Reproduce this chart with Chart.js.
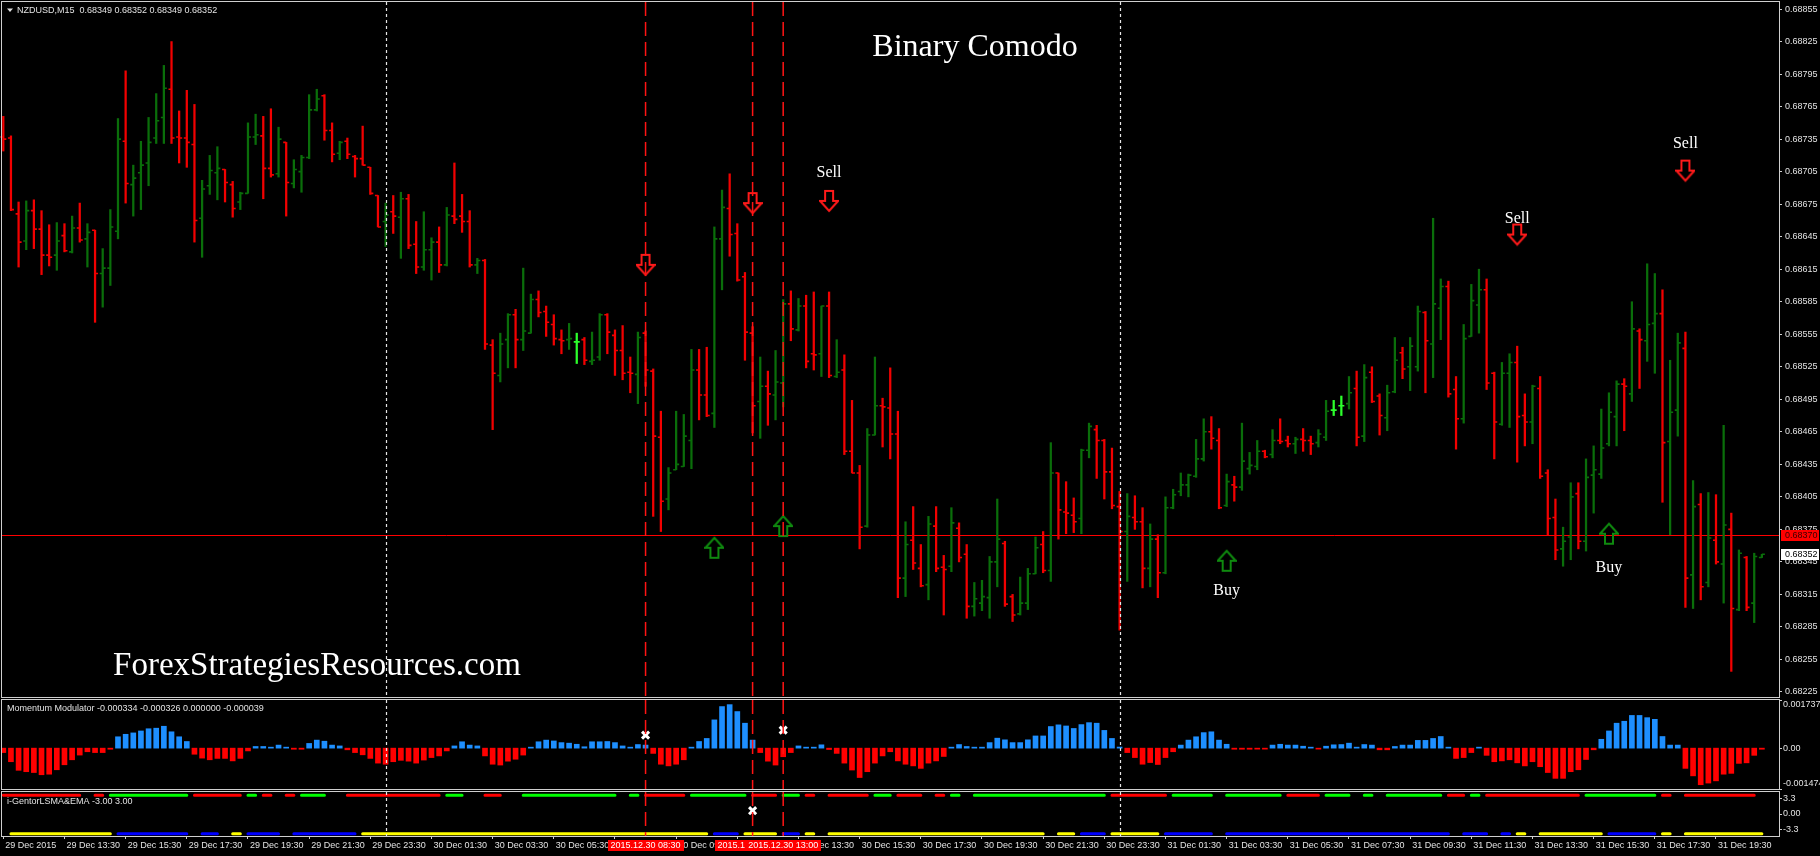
<!DOCTYPE html>
<html>
<head>
<meta charset="utf-8">
<title>Binary Comodo</title>
<script src="https://cdn.jsdelivr.net/npm/chart.js@4.4.1/dist/chart.umd.min.js"></script>
<style>
  html, body { margin: 0; padding: 0; background: #000; overflow: hidden; }
  body { width: 1820px; height: 856px; position: relative; }
  canvas { position: absolute; left: 0; }
</style>
</head>
<body>
<canvas id="main" width="1820" height="699" style="top:0;width:1820px;height:699px"></canvas>
<canvas id="momentum" width="1820" height="92" style="top:699px;width:1820px;height:92px"></canvas>
<canvas id="gentor" width="1820" height="65" style="top:791px;width:1820px;height:65px"></canvas>
<script>
// ---- data (NZDUSD M15, 29 Dec 2015 11:30 -> 31 Dec 2015 21:00) ----
const timeLabels = [
  "29 Dec 2015", "29 Dec 13:30", "29 Dec 15:30", "29 Dec 17:30", "29 Dec 19:30", "29 Dec 21:30", "29 Dec 23:30",
  "30 Dec 01:30", "30 Dec 03:30", "30 Dec 05:30", "30 Dec 07:30", "30 Dec 09:30", "30 Dec 11:30", "30 Dec 13:30",
  "30 Dec 15:30", "30 Dec 17:30", "30 Dec 19:30", "30 Dec 21:30", "30 Dec 23:30", "31 Dec 01:30", "31 Dec 03:30",
  "31 Dec 05:30", "31 Dec 07:30", "31 Dec 09:30", "31 Dec 11:30", "31 Dec 13:30", "31 Dec 15:30", "31 Dec 17:30",
  "31 Dec 19:30"
];
const timeTickBars = [0, 8, 16, 24, 32, 40, 48, 56, 64, 72, 80, 88, 96, 104, 112, 120, 128, 136, 144, 152,
  160, 168, 176, 184, 192, 200, 208, 216, 224];

const priceTicks = [0.68225, 0.68255, 0.68285, 0.68315, 0.68345, 0.68375, 0.68405, 0.68435, 0.68465, 0.68495,
  0.68525, 0.68555, 0.68585, 0.68615, 0.68645, 0.68675, 0.68705, 0.68735, 0.68765, 0.68795, 0.68825, 0.68855];

const opens = [
  0.68737,0.68736,0.68666,0.68641,0.68669,0.68652,0.68628,0.68628,0.68646,0.68631,
  0.68653,0.68643,0.68651,0.68611,0.68616,0.68650,0.68733,0.68693,0.68704,0.68713,
  0.68736,0.68755,0.68781,0.68737,0.68736,0.68730,0.68662,0.68692,0.68704,0.68707,
  0.68693,0.68677,0.68685,0.68737,0.68738,0.68708,0.68703,0.68732,0.68694,0.68705,
  0.68718,0.68762,0.68775,0.68743,0.68722,0.68733,0.68719,0.68717,0.68709,0.68683,
  0.68659,0.68668,0.68663,0.68680,0.68638,0.68617,0.68633,0.68640,0.68619,0.68664,
  0.68664,0.68659,0.68619,0.68623,0.68545,0.68517,0.68550,0.68573,0.68550,0.68556,
  0.68587,0.68576,0.68564,0.68550,0.68550,0.68548,0.68550,0.68530,0.68534,0.68573,
  0.68554,0.68540,0.68520,0.68518,0.68556,0.68521,0.68460,0.68403,0.68430,0.68433,
  0.68457,0.68522,0.68499,0.68482,0.68643,0.68671,0.68648,0.68608,0.68556,0.68493,
  0.68507,0.68499,0.68510,0.68583,0.68559,0.68581,0.68537,0.68537,0.68581,0.68516,
  0.68522,0.68447,0.68427,0.68378,0.68462,0.68489,0.68487,0.68463,0.68330,0.68365,
  0.68339,0.68324,0.68378,0.68340,0.68341,0.68376,0.68352,0.68304,0.68307,0.68312,
  0.68345,0.68362,0.68313,0.68297,0.68307,0.68334,0.68361,0.68337,0.68427,0.68391,
  0.68388,0.68385,0.68448,0.68467,0.68457,0.68428,0.68396,0.68373,0.68386,0.68382,
  0.68339,0.68366,0.68335,0.68395,0.68410,0.68416,0.68424,0.68440,0.68465,0.68457,
  0.68397,0.68416,0.68414,0.68431,0.68433,0.68447,0.68444,0.68457,0.68457,0.68454,
  0.68458,0.68457,0.68455,0.68460,0.68485,0.68489,0.68491,0.68505,0.68461,0.68520,
  0.68498,0.68478,0.68502,0.68538,0.68525,0.68525,0.68575,0.68546,0.68579,0.68599,
  0.68504,0.68477,0.68553,0.68582,0.68596,0.68519,0.68472,0.68519,0.68529,0.68480,
  0.68474,0.68505,0.68427,0.68386,0.68357,0.68368,0.68408,0.68364,0.68425,0.68426,
  0.68454,0.68479,0.68509,0.68500,0.68558,0.68549,0.68565,0.68574,0.68456,0.68485,
  0.68542,0.68333,0.68398,0.68326,0.68365,0.68343,0.68375,0.68301,0.68349,0.68307,
  0.68349
];
const highs = [
  0.68756,0.68738,0.68677,0.68678,0.68679,0.68669,0.68656,0.68658,0.68657,0.68664,
  0.68676,0.68657,0.68651,0.68634,0.68670,0.68754,0.68798,0.68711,0.68733,0.68755,
  0.68777,0.68803,0.68825,0.68761,0.68780,0.68767,0.68697,0.68720,0.68728,0.68707,
  0.68696,0.68686,0.68750,0.68758,0.68756,0.68763,0.68746,0.68732,0.68716,0.68720,
  0.68776,0.68781,0.68776,0.68750,0.68733,0.68736,0.68720,0.68747,0.68709,0.68683,
  0.68676,0.68683,0.68686,0.68684,0.68659,0.68668,0.68644,0.68654,0.68672,0.68713,
  0.68684,0.68669,0.68625,0.68624,0.68550,0.68556,0.68574,0.68578,0.68616,0.68592,
  0.68595,0.68581,0.68573,0.68559,0.68565,0.68556,0.68552,0.68557,0.68574,0.68574,
  0.68559,0.68563,0.68534,0.68557,0.68558,0.68523,0.68484,0.68432,0.68484,0.68481,
  0.68541,0.68541,0.68543,0.68654,0.68688,0.68703,0.68657,0.68612,0.68562,0.68534,
  0.68521,0.68540,0.68587,0.68595,0.68588,0.68591,0.68594,0.68581,0.68594,0.68550,
  0.68536,0.68494,0.68434,0.68468,0.68534,0.68496,0.68524,0.68484,0.68382,0.68396,
  0.68361,0.68387,0.68396,0.68351,0.68395,0.68381,0.68361,0.68326,0.68328,0.68350,
  0.68403,0.68364,0.68315,0.68331,0.68339,0.68368,0.68373,0.68455,0.68427,0.68419,
  0.68404,0.68449,0.68473,0.68471,0.68458,0.68450,0.68410,0.68408,0.68406,0.68395,
  0.68380,0.68370,0.68405,0.68412,0.68427,0.68426,0.68458,0.68477,0.68479,0.68468,
  0.68426,0.68424,0.68473,0.68446,0.68457,0.68448,0.68467,0.68477,0.68461,0.68460,
  0.68468,0.68461,0.68467,0.68494,0.68494,0.68498,0.68516,0.68521,0.68527,0.68525,
  0.68500,0.68508,0.68552,0.68543,0.68552,0.68581,0.68576,0.68662,0.68606,0.68604,
  0.68516,0.68564,0.68601,0.68615,0.68606,0.68520,0.68529,0.68537,0.68544,0.68500,
  0.68508,0.68516,0.68430,0.68403,0.68377,0.68418,0.68418,0.68440,0.68452,0.68486,
  0.68501,0.68512,0.68514,0.68585,0.68560,0.68620,0.68611,0.68596,0.68531,0.68556,
  0.68557,0.68420,0.68408,0.68409,0.68407,0.68471,0.68390,0.68356,0.68350,0.68353,
  0.68352
];
const lows = [
  0.68724,0.68669,0.68617,0.68633,0.68634,0.68610,0.68618,0.68614,0.68631,0.68630,
  0.68640,0.68617,0.68566,0.68580,0.68600,0.68643,0.68676,0.68664,0.68670,0.68692,
  0.68731,0.68731,0.68731,0.68713,0.68709,0.68640,0.68626,0.68684,0.68679,0.68677,
  0.68663,0.68670,0.68685,0.68730,0.68680,0.68700,0.68700,0.68664,0.68690,0.68686,
  0.68717,0.68761,0.68734,0.68714,0.68716,0.68717,0.68700,0.68711,0.68684,0.68654,
  0.68636,0.68648,0.68625,0.68634,0.68611,0.68614,0.68605,0.68612,0.68618,0.68657,
  0.68649,0.68617,0.68611,0.68541,0.68467,0.68511,0.68524,0.68524,0.68540,0.68556,
  0.68571,0.68553,0.68545,0.68537,0.68541,0.68528,0.68527,0.68527,0.68531,0.68537,
  0.68517,0.68513,0.68501,0.68491,0.68507,0.68387,0.68373,0.68393,0.68430,0.68433,
  0.68431,0.68476,0.68479,0.68469,0.68596,0.68627,0.68604,0.68531,0.68464,0.68459,
  0.68471,0.68476,0.68488,0.68549,0.68558,0.68524,0.68522,0.68516,0.68515,0.68515,
  0.68444,0.68427,0.68357,0.68377,0.68462,0.68451,0.68440,0.68312,0.68313,0.68338,
  0.68322,0.68310,0.68336,0.68296,0.68336,0.68345,0.68293,0.68295,0.68300,0.68293,
  0.68322,0.68304,0.68290,0.68296,0.68301,0.68334,0.68335,0.68327,0.68366,0.68371,
  0.68372,0.68371,0.68441,0.68422,0.68403,0.68394,0.68282,0.68327,0.68375,0.68321,
  0.68322,0.68312,0.68334,0.68394,0.68406,0.68405,0.68423,0.68438,0.68449,0.68394,
  0.68396,0.68401,0.68411,0.68426,0.68430,0.68441,0.68441,0.68454,0.68451,0.68445,
  0.68447,0.68444,0.68451,0.68457,0.68480,0.68480,0.68486,0.68452,0.68456,0.68492,
  0.68462,0.68466,0.68501,0.68514,0.68503,0.68521,0.68501,0.68515,0.68550,0.68497,
  0.68449,0.68473,0.68553,0.68556,0.68504,0.68440,0.68471,0.68469,0.68437,0.68452,
  0.68454,0.68422,0.68370,0.68347,0.68341,0.68347,0.68357,0.68355,0.68390,0.68422,
  0.68452,0.68452,0.68466,0.68493,0.68505,0.68530,0.68519,0.68400,0.68370,0.68461,
  0.68303,0.68302,0.68310,0.68322,0.68343,0.68307,0.68244,0.68300,0.68300,0.68289,
  0.68349
];
const closes = [
  0.68735,0.68670,0.68640,0.68669,0.68652,0.68628,0.68626,0.68641,0.68632,0.68653,
  0.68642,0.68649,0.68611,0.68616,0.68654,0.68735,0.68694,0.68699,0.68711,0.68732,
  0.68752,0.68782,0.68736,0.68736,0.68732,0.68660,0.68689,0.68706,0.68708,0.68695,
  0.68671,0.68685,0.68737,0.68739,0.68708,0.68702,0.68735,0.68695,0.68707,0.68718,
  0.68762,0.68772,0.68743,0.68721,0.68732,0.68721,0.68717,0.68711,0.68685,0.68654,
  0.68665,0.68664,0.68680,0.68637,0.68617,0.68633,0.68640,0.68619,0.68665,0.68661,
  0.68659,0.68619,0.68623,0.68546,0.68519,0.68546,0.68573,0.68550,0.68558,0.68587,
  0.68575,0.68566,0.68551,0.68549,0.68551,0.68548,0.68531,0.68531,0.68573,0.68557,
  0.68540,0.68519,0.68519,0.68552,0.68522,0.68461,0.68401,0.68427,0.68435,0.68461,
  0.68522,0.68499,0.68480,0.68643,0.68672,0.68647,0.68605,0.68557,0.68489,0.68507,
  0.68500,0.68511,0.68583,0.68560,0.68581,0.68530,0.68536,0.68581,0.68517,0.68520,
  0.68447,0.68427,0.68377,0.68462,0.68489,0.68488,0.68463,0.68330,0.68361,0.68344,
  0.68323,0.68380,0.68339,0.68338,0.68381,0.68349,0.68304,0.68311,0.68313,0.68345,
  0.68366,0.68306,0.68296,0.68307,0.68334,0.68358,0.68337,0.68427,0.68393,0.68390,
  0.68382,0.68448,0.68470,0.68457,0.68428,0.68397,0.68373,0.68387,0.68382,0.68339,
  0.68366,0.68335,0.68395,0.68407,0.68416,0.68425,0.68440,0.68465,0.68459,0.68395,
  0.68419,0.68414,0.68438,0.68434,0.68447,0.68442,0.68457,0.68456,0.68454,0.68458,
  0.68457,0.68454,0.68463,0.68484,0.68485,0.68489,0.68501,0.68460,0.68515,0.68493,
  0.68480,0.68501,0.68531,0.68523,0.68544,0.68576,0.68549,0.68583,0.68599,0.68500,
  0.68477,0.68551,0.68586,0.68596,0.68510,0.68474,0.68519,0.68529,0.68479,0.68474,
  0.68507,0.68424,0.68385,0.68356,0.68364,0.68405,0.68364,0.68423,0.68430,0.68450,
  0.68483,0.68509,0.68507,0.68560,0.68550,0.68564,0.68574,0.68455,0.68483,0.68547,
  0.68330,0.68396,0.68322,0.68367,0.68345,0.68379,0.68302,0.68353,0.68303,0.68350,
  0.68352
];

// Momentum Modulator histogram
const momentum = [
  -0.00016,-0.00049,-0.00080,-0.00085,-0.00088,-0.00096,-0.00094,-0.00078,-0.00060,-0.00042,
  -0.00025,-0.00013,-0.00016,-0.00016,-0.00004,0.00041,0.00050,0.00055,0.00062,0.00070,
  0.00072,0.00079,0.00059,0.00041,0.00024,-0.00022,-0.00036,-0.00042,-0.00037,-0.00037,
  -0.00046,-0.00037,-0.00010,0.00006,0.00006,0.00002,0.00011,0.00001,-0.00004,-0.00004,
  0.00017,0.00029,0.00025,0.00011,0.00008,-0.00006,-0.00016,-0.00024,-0.00037,-0.00054,
  -0.00058,-0.00049,-0.00044,-0.00047,-0.00054,-0.00043,-0.00034,-0.00028,-0.00010,0.00008,
  0.00023,0.00011,0.00008,-0.00028,-0.00058,-0.00061,-0.00047,-0.00040,-0.00025,0.00002,
  0.00023,0.00029,0.00026,0.00020,0.00018,0.00014,0.00005,0.00023,0.00023,0.00024,
  0.00020,0.00008,0.00002,0.00013,0.00011,-0.00019,-0.00058,-0.00064,-0.00058,-0.00042,
  0.00002,0.00024,0.00035,0.00102,0.00150,0.00157,0.00132,0.00090,0.00029,-0.00016,
  -0.00047,-0.00061,-0.00031,-0.00016,0.00008,0.00002,0.00002,0.00012,-0.00005,-0.00019,
  -0.00054,-0.00079,-0.00106,-0.00085,-0.00054,-0.00028,-0.00013,-0.00046,-0.00058,-0.00064,
  -0.00073,-0.00054,-0.00046,-0.00030,0.00002,0.00013,0.00006,0.00002,0.00002,0.00020,
  0.00036,0.00030,0.00020,0.00020,0.00030,0.00044,0.00044,0.00078,0.00084,0.00080,
  0.00071,0.00085,0.00092,0.00090,0.00064,0.00035,0.00004,-0.00016,-0.00034,-0.00058,
  -0.00052,-0.00059,-0.00034,-0.00013,0.00011,0.00029,0.00041,0.00056,0.00059,0.00029,
  0.00014,-0.00004,-0.00004,-0.00004,-0.00002,-0.00001,0.00011,0.00014,0.00011,0.00011,
  0.00007,0.00001,-0.00002,0.00007,0.00012,0.00013,0.00018,0.00001,0.00013,0.00011,
  -0.00006,-0.00006,0.00006,0.00011,0.00011,0.00028,0.00028,0.00035,0.00042,0.00001,
  -0.00037,-0.00034,-0.00016,0.00001,-0.00026,-0.00049,-0.00046,-0.00042,-0.00053,-0.00064,
  -0.00049,-0.00067,-0.00088,-0.00109,-0.00109,-0.00085,-0.00078,-0.00041,-0.00006,0.00032,
  0.00062,0.00090,0.00097,0.00118,0.00118,0.00110,0.00104,0.00042,0.00011,0.00011,
  -0.00073,-0.00100,-0.00132,-0.00126,-0.00118,-0.00094,-0.00091,-0.00055,-0.00053,-0.00026,
  -0.00004
];
const momentumTicks = [0.001737, 0, -0.001474];

// i-GentorLSMA&EMA: bar ranges where each coloured level is drawn
const gentorTicks = [3.3, 0, -3.3];
const gentorLevels = [4.0, -4.2];
const gentorRed = [[0,10],[12,13],[25,31],[34,35],[37,38],[45,57],[63,65],[84,89],[98,101],[105,106],
  [108,113],[117,120],[122,123],[145,152],[168,172],[189,191],[194,206],[217,218],[220,229]];
const gentorGreen = [[14,24],[32,33],[39,42],[58,60],[68,80],[82,83],[90,97],[102,104],[114,116],[124,125],
  [127,144],[153,158],[160,167],[173,176],[178,179],[181,188],[192,193],[207,216]];
const gentorYellow = [[1,14],[30,31],[47,92],[97,101],[105,106],[108,136],[138,140],[145,151],[198,199],
  [201,209],[217,218],[220,230]];
const gentorBlue = [[15,24],[26,28],[32,36],[38,46],[93,96],[102,104],[141,144],[152,158],[160,189],
  [191,194],[196,197],[210,216]];

// signals and objects
const sellArrows = [[84, 0.68619], [98, 0.68676], [108, 0.68678], [198, 0.68647], [220, 0.68706]];
const buyArrows = [[93, 0.68358], [102, 0.68378], [160, 0.68346], [210, 0.68371]];
const sellLabels = [[108, 0.68700], [198, 0.68658], [220, 0.68727]];
const buyLabels = [[160, 0.68314], [210, 0.68336]];
const signalBars = [84, 98, 102];
const signalTimes = ["2015.12.30 08:30", "2015.12.30 12:00", "2015.12.30 13:00"];
const daySeparators = [50, 146];
const priceLine = 0.68370;
const lastPrice = 0.68352;
const momentumCrosses = [[84, 0.00047], [102, 0.00065]];
const gentorCrosses = [[98, 0.7]];

// ---- styling ----
const UP = '#0a6e0a', DOWN = '#f20000', DOJI = '#2cff2c';
const TXT = '#e2e2e2', FRAME = '#cfcfcf';
const SANS = '"Liberation Sans", Arial, sans-serif';
const SERIF = '"Liberation Serif", "Times New Roman", serif';
const X_MIN = -0.17, X_MAX = 232.24;
Chart.defaults.font.family = SANS;
Chart.defaults.font.size = 9;
Chart.defaults.color = TXT;

const barColor = i => closes[i] > opens[i] ? UP : (closes[i] < opens[i] ? DOWN : DOJI);
// fixed axis width, and no extra room for the end labels
const fixWidth = s => { s.width = 41; s.paddingTop = 0; s.paddingBottom = 0; };
const xAxis = show => ({
  type: 'linear', min: X_MIN, max: X_MAX, offset: false, display: show,
  grid: { offset: false, drawOnChartArea: false, drawTicks: true, tickLength: 3, color: FRAME },
  border: { display: false }
});

function arrowIcon(color, down) {
  const c = document.createElement('canvas');
  c.width = 20; c.height = 24;
  const g = c.getContext('2d');
  const pts = [[6, 2], [14, 2], [14, 12], [19, 12], [10, 22], [1, 12], [6, 12]];
  g.strokeStyle = color; g.lineWidth = 2;
  g.beginPath();
  pts.forEach(([px, py], k) => {
    const yy = down ? py : 24 - py;
    if (k) g.lineTo(px, yy); else g.moveTo(px, yy);
  });
  g.closePath(); g.stroke();
  return c;
}

function drawVerticals(chart) {
  const { ctx, chartArea: a, scales: { x } } = chart;
  ctx.save();
  ctx.lineWidth = 1.5; ctx.strokeStyle = '#ff1414'; ctx.setLineDash([14, 6]);
  signalBars.forEach(b => {
    const px = x.getPixelForValue(b);
    ctx.beginPath(); ctx.moveTo(px, a.top); ctx.lineTo(px, a.bottom); ctx.stroke();
  });
  ctx.lineWidth = 1.2; ctx.strokeStyle = '#e6e6e6'; ctx.setLineDash([3, 3]);
  daySeparators.forEach(b => {
    const px = Math.round(x.getPixelForValue(b)) + 0.5;
    ctx.beginPath(); ctx.moveTo(px, a.top); ctx.lineTo(px, a.bottom); ctx.stroke();
  });
  ctx.restore();
}

function drawFrame(chart) {
  const { ctx, chartArea: a } = chart;
  ctx.save();
  ctx.strokeStyle = FRAME; ctx.lineWidth = 1;
  ctx.strokeRect(Math.floor(a.left) - 0.5, Math.floor(a.top) - 0.5,
    Math.round(a.right - a.left) + 1, Math.round(a.bottom - a.top) + 1);
  ctx.restore();
}

function header(chart, text, y, withTriangle) {
  const { ctx } = chart;
  ctx.save();
  ctx.fillStyle = TXT; ctx.font = '9px ' + SANS; ctx.textBaseline = 'middle';
  let x = 7;
  if (withTriangle) {
    ctx.beginPath(); ctx.moveTo(7, 8.5); ctx.lineTo(13, 8.5); ctx.lineTo(10, 12); ctx.closePath(); ctx.fill();
    x = 17;
  }
  ctx.fillText(text, x, y);
  ctx.restore();
}

const baseOptions = pad => ({
  responsive: false, animation: false, events: [],
  layout: { autoPadding: false, padding: pad },
  plugins: { legend: { display: false }, tooltip: { enabled: false } }
});

// ---- main price chart ----
const mainDecor = {
  id: 'mainDecor',
  beforeDatasetsDraw(chart) {
    const { ctx, chartArea: a, scales: { y } } = chart;
    const py = Math.round(y.getPixelForValue(priceLine)) + 0.5;
    ctx.save();
    ctx.strokeStyle = '#ff0000'; ctx.lineWidth = 1;
    ctx.beginPath(); ctx.moveTo(a.left, py); ctx.lineTo(a.right, py); ctx.stroke();
    ctx.restore();
  },
  afterDatasetsDraw(chart) {
    const { ctx, scales: { x, y } } = chart;
    ctx.save();
    ctx.lineWidth = 1.6;
    opens.forEach((o, i) => {
      const px = x.getPixelForValue(i);
      const yo = y.getPixelForValue(o), yc = y.getPixelForValue(closes[i]);
      ctx.strokeStyle = barColor(i);
      ctx.beginPath();
      ctx.moveTo(px - 3, yo); ctx.lineTo(px, yo);
      ctx.moveTo(px, yc); ctx.lineTo(px + 3, yc);
      ctx.stroke();
    });
    ctx.restore();
    drawVerticals(chart);
    ctx.save();
    ctx.fillStyle = '#ffffff'; ctx.textAlign = 'center'; ctx.textBaseline = 'alphabetic';
    ctx.font = '16px ' + SERIF;
    sellLabels.forEach(([b, p]) => ctx.fillText('Sell', x.getPixelForValue(b), y.getPixelForValue(p)));
    buyLabels.forEach(([b, p]) => ctx.fillText('Buy', x.getPixelForValue(b), y.getPixelForValue(p)));
    ctx.font = '32px ' + SERIF;
    ctx.fillText('Binary Comodo', 975, 56);
    ctx.font = '33px ' + SERIF;
    ctx.fillText('ForexStrategiesResources.com', 317, 675);
    ctx.restore();
  },
  afterDraw(chart) {
    const { ctx, chartArea: a, scales: { y } } = chart;
    drawFrame(chart);
    header(chart, 'NZDUSD,M15  0.68349 0.68352 0.68349 0.68352', 10.5, true);
    ctx.save();
    ctx.font = '9px ' + SANS; ctx.textBaseline = 'middle';
    const ry = Math.round(y.getPixelForValue(priceLine));
    ctx.fillStyle = '#ff0000'; ctx.fillRect(a.right + 2, ry - 5, 38, 11);
    ctx.fillStyle = '#3a0000'; ctx.fillText(priceLine.toFixed(5), a.right + 6, ry + 0.5);
    const ly = Math.round(y.getPixelForValue(lastPrice));
    ctx.fillStyle = '#ffffff'; ctx.fillRect(a.right + 2, ly - 5, 38, 11);
    ctx.fillStyle = '#000000'; ctx.fillText(lastPrice.toFixed(5), a.right + 6, ly + 0.5);
    ctx.restore();
  }
};

new Chart(document.getElementById('main'), {
  type: 'bar',
  data: {
    datasets: [
      {
        type: 'bar',
        data: highs.map((h, i) => ({ x: i, y: [lows[i], h] })),
        backgroundColor: opens.map((_, i) => barColor(i)),
        barThickness: 1.6, grouped: false, order: 3
      },
      {
        type: 'scatter',
        data: sellArrows.map(([b, p]) => ({ x: b, y: p })),
        pointStyle: arrowIcon('#ff1a1a', true), order: 1
      },
      {
        type: 'scatter',
        data: buyArrows.map(([b, p]) => ({ x: b, y: p })),
        pointStyle: arrowIcon('#0f8a0f', false), order: 1
      }
    ]
  },
  options: Object.assign(baseOptions({ left: 2, top: 2, right: 0, bottom: 2 }), {
    scales: {
      x: xAxis(false),
      y: {
        position: 'right', min: 0.6822036, max: 0.688615,
        afterFit: fixWidth,
        afterBuildTicks: ax => { ax.ticks = priceTicks.map(v => ({ value: v })); },
        ticks: { callback: v => v.toFixed(5), padding: 3, color: TXT },
        grid: { drawOnChartArea: false, drawTicks: true, tickLength: 3, color: FRAME },
        border: { display: false }
      }
    }
  }),
  plugins: [mainDecor]
});

// ---- Momentum Modulator ----
const momentumDecor = {
  id: 'momentumDecor',
  afterDatasetsDraw(chart) { drawVerticals(chart); },
  afterDraw(chart) {
    const { ctx, chartArea: a, scales: { y } } = chart;
    drawFrame(chart);
    header(chart, 'Momentum Modulator -0.000334 -0.000326 0.000000 -0.000039', 9.5, false);
    ctx.save();
    ctx.font = '9px ' + SANS; ctx.fillStyle = TXT; ctx.textBaseline = 'middle';
    ctx.strokeStyle = FRAME; ctx.lineWidth = 1;
    momentumTicks.forEach(v => {
      const py = Math.min(Math.max(y.getPixelForValue(v), a.top + 5), a.bottom - 5);
      ctx.fillText(v === 0 ? '0.00' : v.toFixed(6), a.right + 4, py);
      const ty = Math.round(y.getPixelForValue(v)) + 0.5;
      ctx.beginPath(); ctx.moveTo(a.right, ty); ctx.lineTo(a.right + 3, ty); ctx.stroke();
    });
    ctx.restore();
  }
};

new Chart(document.getElementById('momentum'), {
  type: 'bar',
  data: {
    datasets: [
      {
        type: 'bar',
        data: momentum.map((v, i) => ({ x: i, y: v })),
        backgroundColor: momentum.map(v => v >= 0 ? '#1e8fff' : '#ff0000'),
        barThickness: 5, minBarLength: 1, grouped: false, order: 2
      },
      {
        type: 'scatter',
        data: momentumCrosses.map(([b, v]) => ({ x: b, y: v })),
        pointStyle: 'crossRot', pointRadius: 5, pointBorderWidth: 3,
        pointBorderColor: '#ffffff', pointBackgroundColor: '#ffffff', order: 1
      }
    ]
  },
  options: Object.assign(baseOptions({ left: 2, top: 1, right: 0, bottom: 2 }), {
    scales: {
      x: xAxis(false),
      y: {
        position: 'right', min: -0.001474, max: 0.001737,
        afterFit: fixWidth,
        ticks: { display: false }, grid: { display: false }, border: { display: false }
      }
    }
  }),
  plugins: [momentumDecor]
});

// ---- i-GentorLSMA&EMA + time axis ----
const inRanges = (ranges, i) => ranges.some(([a, b]) => i >= a && i <= b);
const levelLine = (ranges, level) => opens.map((_, i) => ({ x: i, y: inRanges(ranges, i) ? level : null }));
const levelDataset = (ranges, level, color) => ({
  type: 'line', data: levelLine(ranges, level), borderColor: color, borderWidth: 3,
  pointRadius: 0, spanGaps: false, borderCapStyle: 'round', order: 2
});

const gentorDecor = {
  id: 'gentorDecor',
  afterDatasetsDraw(chart) { drawVerticals(chart); },
  afterDraw(chart) {
    const { ctx, chartArea: a, scales: { x } } = chart;
    drawFrame(chart);
    header(chart, 'i-GentorLSMA&EMA -3.00 3.00', 10.5, false);
    ctx.save();
    ctx.font = '9px ' + SANS; ctx.textBaseline = 'middle'; ctx.textAlign = 'center';
    signalBars.forEach((b, k) => {
      const px = x.getPixelForValue(b);
      const w = ctx.measureText(signalTimes[k]).width + 6;
      ctx.fillStyle = '#ff0000'; ctx.fillRect(Math.round(px - w / 2), a.bottom + 4, Math.round(w), 11);
      ctx.fillStyle = '#ffffff'; ctx.fillText(signalTimes[k], px, a.bottom + 10);
    });
    ctx.restore();
  }
};

new Chart(document.getElementById('gentor'), {
  type: 'line',
  data: {
    datasets: [
      levelDataset(gentorRed, gentorLevels[0], '#ff0000'),
      levelDataset(gentorGreen, gentorLevels[0], '#00ff00'),
      levelDataset(gentorYellow, gentorLevels[1], '#ffff00'),
      levelDataset(gentorBlue, gentorLevels[1], '#0000ff'),
      {
        type: 'scatter',
        data: gentorCrosses.map(([b, v]) => ({ x: b, y: v })),
        pointStyle: 'crossRot', pointRadius: 5, pointBorderWidth: 3,
        pointBorderColor: '#ffffff', pointBackgroundColor: '#ffffff', order: 1
      }
    ]
  },
  options: Object.assign(baseOptions({ left: 2, top: 1, right: 0, bottom: 0 }), {
    scales: {
      x: Object.assign(xAxis(true), {
        afterFit: s => { s.height = 20; s.paddingLeft = 0; s.paddingRight = 0; },
        afterBuildTicks: ax => { ax.ticks = timeTickBars.map(v => ({ value: v })); },
        ticks: {
          autoSkip: false, maxRotation: 0, minRotation: 0, align: 'start', labelOffset: 2, padding: 1,
          color: TXT, callback: (v, idx) => timeLabels[idx]
        }
      }),
      y: {
        position: 'right', min: -4.68, max: 4.68,
        afterFit: fixWidth,
        afterBuildTicks: ax => { ax.ticks = gentorTicks.map(v => ({ value: v })); },
        ticks: { callback: v => (v === 0 ? '0.00' : v.toFixed(1)), padding: 1, color: TXT },
        grid: { drawOnChartArea: false, drawTicks: true, tickLength: 3, color: FRAME },
        border: { display: false }
      }
    }
  }),
  plugins: [gentorDecor]
});
</script>
</body>
</html>
